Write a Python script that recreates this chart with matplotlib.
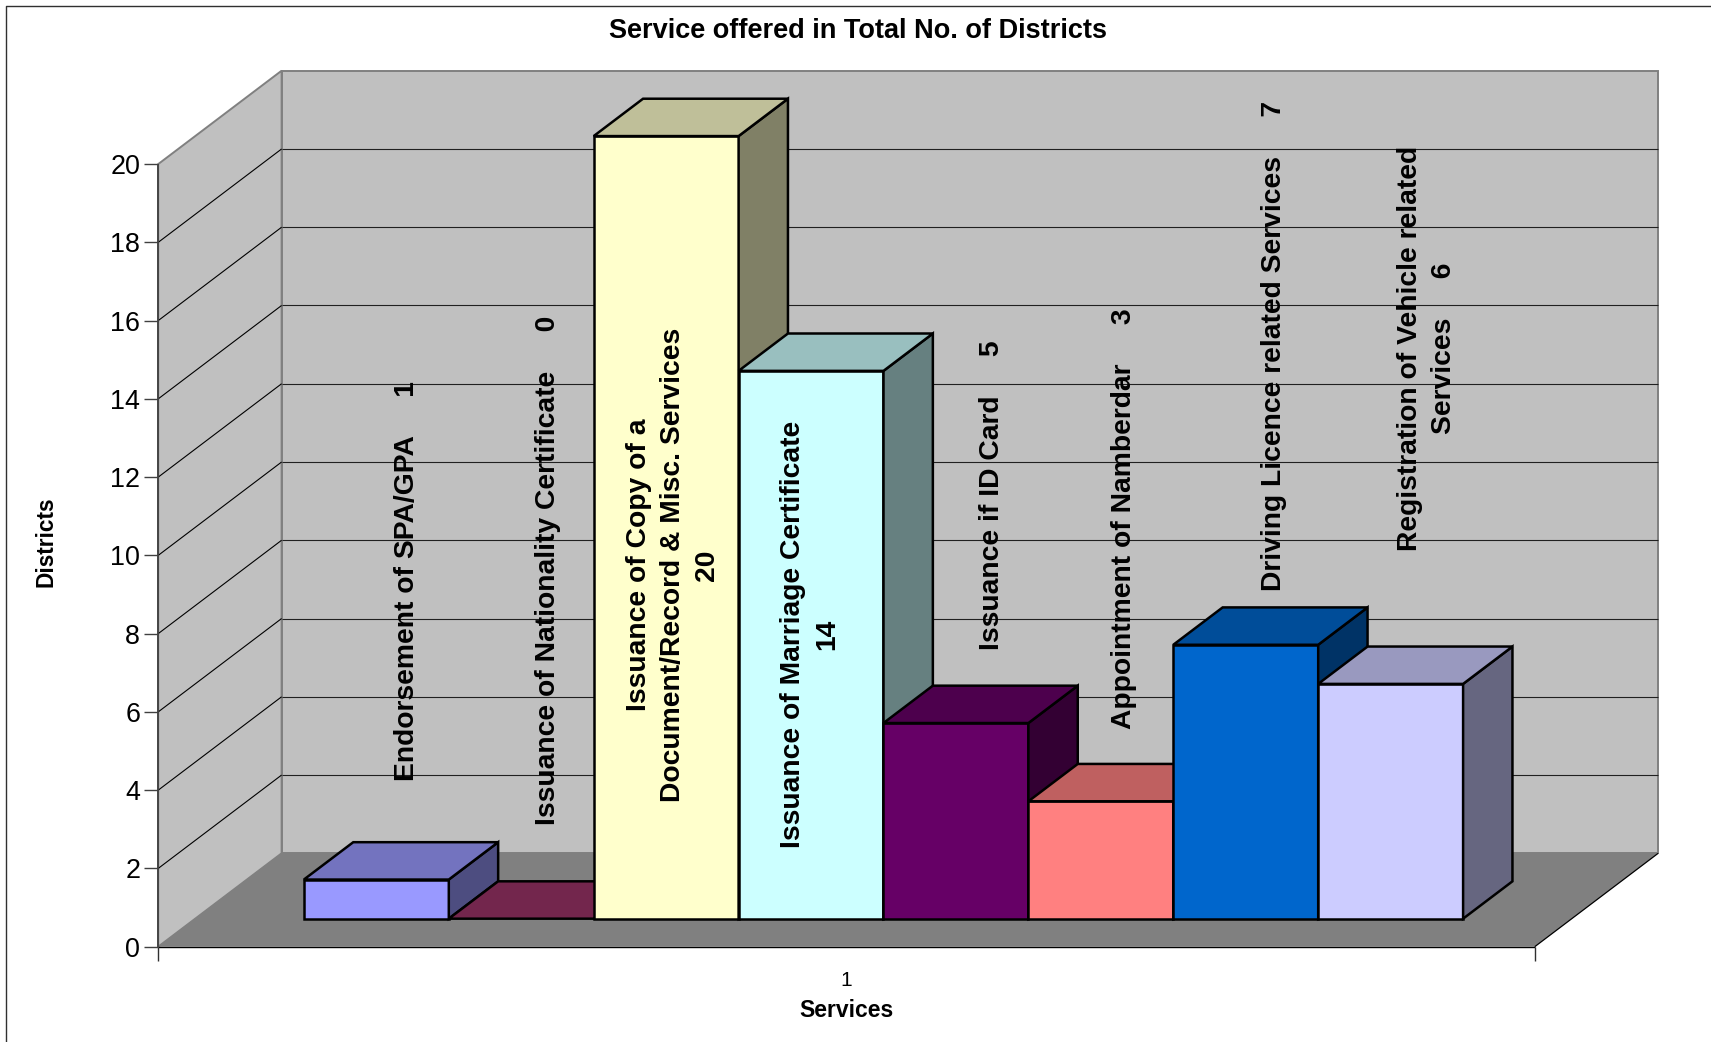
import matplotlib
matplotlib.use("Agg")
import matplotlib.pyplot as plt
from matplotlib.patches import Polygon
from matplotlib.colors import to_rgb

plt.rcParams['font.family'] = ['Liberation Sans', 'DejaVu Sans']

# data
services = ["Endorsement of SPA/GPA     1",
            "Issuance of Nationality Certificate     0",
            "Issuance of Copy of a\nDocument/Record & Misc. Services\n20",
            "Issuance of Marriage Certificate\n14",
            "Issuance if ID Card     5",
            "Appointment of Namberdar     3",
            "Driving Licence related Services     7",
            "Registration of Vehicle related\nServices     6"]
districts = [1, 0, 20, 14, 5, 3, 7, 6]
colors = ["#9999FF", "#993366", "#FFFFCC", "#CCFFFF", "#660066", "#FF8080", "#0066CC", "#CCCCFF"]
y_ticks = [0, 2, 4, 6, 8, 10, 12, 14, 16, 18, 20]
x_ticks = ["1"]

# layout, in pixels of the 1711x1042 picture
W, H = 1711, 1042
X0, Y0 = 158.2, 946.7      # where the value axis meets the floor
UNIT_X = 144.9             # pixels for one bar width
UNIT_Y = 39.13             # pixels for one district
DEPTH_X = 123.4 / UNIT_X   # floor depth, in data units
DEPTH_Y = 93.4 / UNIT_Y
X_MAX = 9.5
BAR_START = 0.75
# centre of each rotated label
label_px = [(407, 581), (548, 570), (673, 565), (810, 634),
            (992, 495), (1124, 519), (1274, 346), (1427, 348)]

fig = plt.figure(figsize=(W / 100, H / 100), dpi=100)
ax = fig.add_axes([0, 0, 1, 1])
ax.set_xlim(-X0 / UNIT_X, (W - X0) / UNIT_X)
ax.set_ylim((Y0 - H) / UNIT_Y, Y0 / UNIT_Y)
ax.axis("off")


def proj(x, v, d=0.0):
    # oblique projection: d is the depth, 0 front and 1 back
    return (x + d * DEPTH_X, v + d * DEPTH_Y)


def shade(c, k):
    return tuple(k * a for a in to_rgb(c))


def face(points, color, edge="black", lw=1.8, z=2):
    ax.add_patch(Polygon(points, closed=True, facecolor=color, edgecolor=edge,
                         linewidth=lw, joinstyle="miter", zorder=z))


def line(p, q, color="black", lw=0.8, z=1.5):
    ax.plot([p[0], q[0]], [p[1], q[1]], color=color, lw=lw, zorder=z, solid_capstyle="butt")


top = y_ticks[-1]
# walls and floor
face([proj(0, 0, 0), proj(0, top, 0), proj(0, top, 1), proj(0, 0, 1)], "#C0C0C0", "#808080", 1.4, 1)
face([proj(0, 0, 1), proj(0, top, 1), proj(X_MAX, top, 1), proj(X_MAX, 0, 1)], "#C0C0C0", "#808080", 1.4, 1)
face([proj(0, 0, 0), proj(0, 0, 1), proj(X_MAX, 0, 1), proj(X_MAX, 0, 0)], "#808080", "none", 0, 1.2)

for v in y_ticks[1:-1]:
    line(proj(0, v, 0), proj(0, v, 1))
    line(proj(0, v, 1), proj(X_MAX, v, 1), color="#202020")

# axes lines and ticks
tick = 14 / UNIT_X
line(proj(0, 0, 0), proj(0, top, 0), color="#404040", lw=1.3, z=1.6)
line(proj(0, 0, 0), proj(X_MAX, 0, 0), lw=1.0)
line(proj(X_MAX, 0, 0), proj(X_MAX, 0, 1), lw=0.9)
for v in y_ticks:
    line((-tick, v), (0, v), color="#404040", lw=1.0)
    ax.text(-tick - 4 / UNIT_X, v, str(v), ha="right", va="center_baseline", fontsize=19.4)
for x in [0, X_MAX]:
    line((x, 0), (x, -14 / UNIT_Y), color="#303030", lw=1.0)
ax.text(X_MAX / 2, -33.5 / UNIT_Y, x_ticks[0], ha="center", va="center", fontsize=15)

# bars, left to right so each one covers the side of the one before
d1, d2 = 0.3, 0.7
for i, (val, col) in enumerate(zip(districts, colors)):
    a = BAR_START + i
    b = a + 1
    if val > 0:
        face([proj(a, 0, d1), proj(a, val, d1), proj(b, val, d1), proj(b, 0, d1)], col, z=3 + i)
        face([proj(b, 0, d1), proj(b, val, d1), proj(b, val, d2), proj(b, 0, d2)], shade(col, 0.5), z=3 + i)
    face([proj(a, val, d1), proj(a, val, d2), proj(b, val, d2), proj(b, val, d1)], shade(col, 0.75), z=3 + i)

# data labels
for name, (px, py) in zip(services, label_px):
    fig.text(px / W, 1 - py / H, name, rotation=90, ha="center", va="center",
             multialignment="center", fontsize=20.35, fontweight="bold", zorder=20,
             linespacing=1.42)

fig.text(857.7 / W, 1 - 31.5 / H, "Service offered in Total No. of Districts",
         ha="center", va="center", fontsize=19.5, fontweight="bold")
fig.text(46.5 / W, 1 - 542 / H, "Districts", rotation=90, ha="center", va="center",
         fontsize=16.3, fontweight="bold")
fig.text(846 / W, 1 - 1010.5 / H, "Services", ha="center", va="center",
         fontsize=16.5, fontweight="bold")

# chart border, only top and left are in the picture
fig.add_artist(plt.Line2D([6 / W, 6 / W, 1], [0, 1 - 5.5 / H, 1 - 5.5 / H], color="#303030", lw=1.0))

fig.savefig("out.png", dpi=100)
